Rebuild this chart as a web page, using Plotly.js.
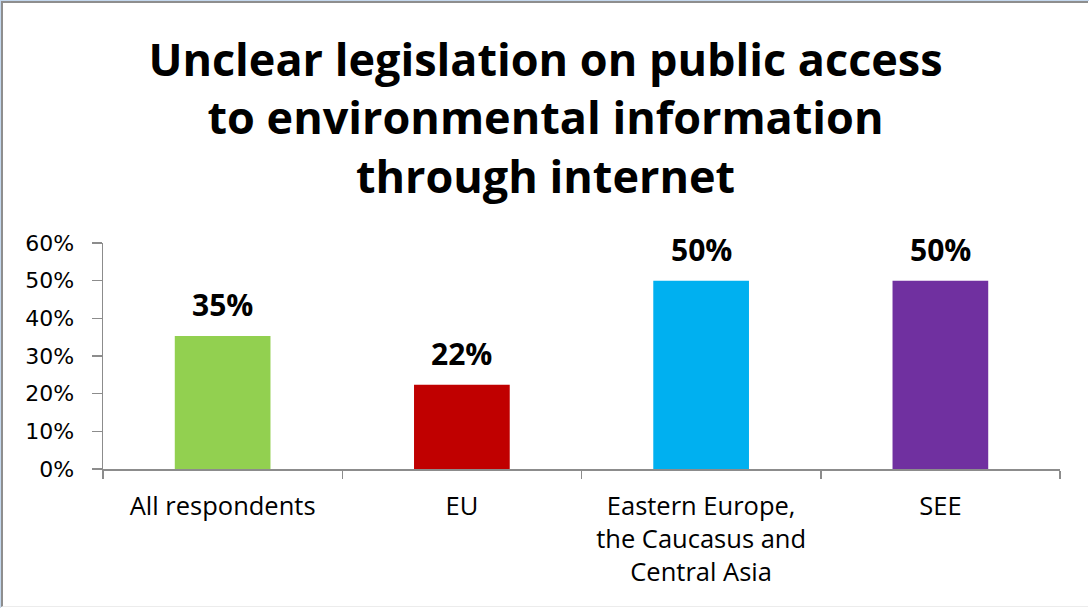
<!DOCTYPE html>
<html>
<head>
<meta charset="utf-8">
<script src="https://cdn.plot.ly/plotly-3.0.1.min.js"></script>
<style>
  html, body { margin: 0; padding: 0; background: #ffffff; overflow: hidden; }
  #outer { width: 1088px; height: 607px; border-top: 1px solid #c4d8ee; border-left: 1px solid #c4d8ee; background: #ffffff; }
  #frame { width: 1085px; height: 603px; border-top: 2px solid #8e8e8e; border-left: 2px solid #8e8e8e; border-bottom: 1px solid #ececec; }
  #chart { width: 1085px; height: 603px; }
</style>
</head>
<body>
<div id="outer"><div id="frame"><div id="chart"></div></div></div>
<script>
const categories = [
  'All respondents',
  'EU',
  'Eastern Europe,<br>the Caucasus and<br>Central Asia',
  'SEE'
];
const values = [0.353, 0.224, 0.5, 0.5];
const barColors = ['#92D050', '#C00000', '#00B0F0', '#7030A0'];
const yTickVals = [0, 0.1, 0.2, 0.3, 0.4, 0.5, 0.6];
const yTickText = ['0%', '10%', '20%', '30%', '40%', '50%', '60%'];
const titleText = 'Unclear legislation on public access<br>to environmental information<br>through internet';

const trace = {
  type: 'bar',
  x: categories,
  y: values,
  width: 0.4,
  marker: { color: barColors },
  hoverinfo: 'none'
};

const annotations = categories.map((c, i) => ({
  x: c,
  y: values[i],
  xref: 'x',
  yref: 'y',
  text: Math.round(values[i] * 100) + '%',
  showarrow: false,
  yanchor: 'bottom',
  yshift: 9,
  font: { family: 'Open Sans, sans-serif', size: 30, color: '#000000', weight: 'bold' }
}));

const layout = {
  width: 1085,
  height: 603,
  margin: { l: 100, r: 28, t: 240, b: 137 },
  paper_bgcolor: '#ffffff',
  plot_bgcolor: '#ffffff',
  showlegend: false,
  title: {
    text: titleText,
    x: 0.5,
    xref: 'container',
    xanchor: 'center',
    y: 0.879,
    yref: 'container',
    yanchor: 'middle',
    font: { family: 'Open Sans, sans-serif', size: 45, color: '#000000', weight: 'bold' }
  },
  xaxis: {
    type: 'category',
    showline: true,
    linecolor: '#8c8c8c',
    linewidth: 1.5,
    ticks: 'outside',
    tickson: 'boundaries',
    ticklen: 8,
    tickwidth: 1.5,
    tickcolor: '#8c8c8c',
    showgrid: false,
    zeroline: false,
    ticklabelstandoff: 14,
    tickfont: { family: 'Open Sans, sans-serif', size: 25.5, color: '#000000' },
    fixedrange: true
  },
  yaxis: {
    range: [0, 0.6],
    tickvals: yTickVals,
    ticktext: yTickText,
    showline: true,
    linecolor: '#8c8c8c',
    linewidth: 1.5,
    ticks: 'outside',
    ticklen: 10,
    tickwidth: 1.5,
    tickcolor: '#8c8c8c',
    showgrid: false,
    zeroline: false,
    ticklabelstandoff: 13,
    tickfont: { family: 'DejaVu Sans, sans-serif', size: 22, color: '#000000' },
    fixedrange: true
  },
  annotations: annotations,
  bargap: 0.6
};

Plotly.newPlot('chart', [trace], layout, { displayModeBar: false, staticPlot: true });
</script>
</body>
</html>
